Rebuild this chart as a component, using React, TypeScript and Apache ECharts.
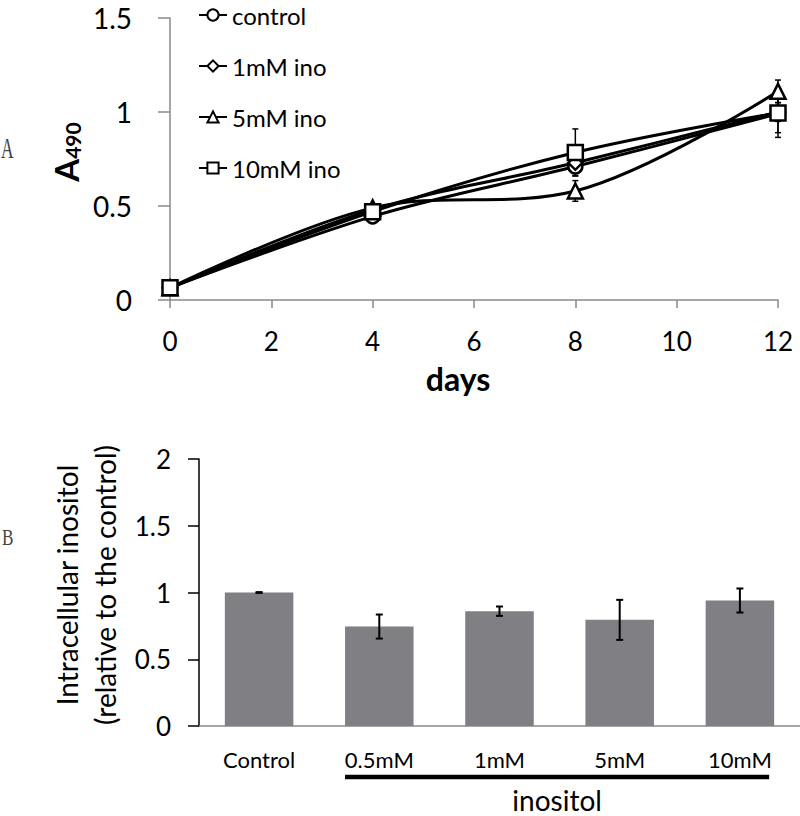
import React, { useEffect, useRef } from "react";
import * as echarts from "echarts";

// ---- Panel A data ----
const days = [0, 4, 8, 12];
const dayTicks = ["0", "2", "4", "6", "8", "10", "12"];
const seriesNames = ["control", "1mM ino", "5mM ino", "10mM ino"];
const controlVals = [0.065, 0.445, 0.71, 0.99];
const ino1Vals = [0.065, 0.48, 0.73, 1.0];
const ino5Vals = [0.065, 0.49, 0.58, 1.11];
const ino10Vals = [0.065, 0.47, 0.785, 0.995];
const controlErr = [0.005, 0.015, 0.05, 0.1];
const ino1Err = [0.005, 0.015, 0.04, 0.05];
const ino5Err = [0.005, 0.015, 0.055, 0.06];
const ino10Err = [0.005, 0.015, 0.125, 0.13];
const symbols = ["circle", "diamond", "triangle", "rect"];

// ---- Panel B data ----
const barCategories = ["Control", "0.5mM", "1mM", "5mM", "10mM"];
const barVals = [1.0, 0.745, 0.86, 0.795, 0.94];
const barErr = [0.003, 0.09, 0.035, 0.15, 0.09];

const FONT = "Lato, 'Open Sans', sans-serif";

export default function App() {
  const ref = useRef<HTMLDivElement>(null);
  useEffect(() => {
    document.body.style.margin = "0";
    const chart = echarts.init(ref.current!, null, { renderer: "svg" });

    const lineVals = [controlVals, ino1Vals, ino5Vals, ino10Vals];
    const errVals = [controlErr, ino1Err, ino5Err, ino10Err];

    const errRender = (capHalf: number, lw: number) => (params: any, api: any) => {
      const x = api.value(0);
      const lo = api.coord([x, api.value(1)]);
      const hi = api.coord([x, api.value(2)]);
      const st = { stroke: "#000", lineWidth: lw };
      return {
        type: "group",
        children: [
          { type: "line", shape: { x1: lo[0], y1: lo[1], x2: hi[0], y2: hi[1] }, style: st },
          { type: "line", shape: { x1: lo[0] - capHalf, y1: lo[1], x2: lo[0] + capHalf, y2: lo[1] }, style: st },
          { type: "line", shape: { x1: hi[0] - capHalf, y1: hi[1], x2: hi[0] + capHalf, y2: hi[1] }, style: st },
        ],
      };
    };

    const series: any[] = [];
    lineVals.forEach((vals, i) => {
      series.push({
        type: "custom",
        xAxisIndex: 0,
        yAxisIndex: 0,
        z: 1,
        silent: true,
        renderItem: errRender(3, 1.5),
        data: days.map((d, j) => [d, vals[j] - errVals[i][j], vals[j] + errVals[i][j]]),
      });
    });
    lineVals.forEach((vals, i) => {
      series.push({
        name: seriesNames[i],
        type: "line",
        xAxisIndex: 0,
        yAxisIndex: 0,
        z: 2 + i,
        smooth: 0.35,
        symbol: symbols[i],
        symbolSize: i >= 2 ? 15 : 14,
        lineStyle: { color: "#000", width: 3 },
        itemStyle: { color: "#fff", borderColor: "#000", borderWidth: 2.5 },
        data: days.map((d, j) => [d, vals[j]]),
      });
    });
    series.push({
      type: "bar",
      xAxisIndex: 1,
      yAxisIndex: 1,
      barWidth: "57%",
      itemStyle: { color: "#7f7f84" },
      data: barVals,
    });
    series.push({
      type: "custom",
      xAxisIndex: 1,
      yAxisIndex: 1,
      z: 5,
      silent: true,
      renderItem: errRender(3.5, 2),
      data: barVals.map((v, i) => [i, v - barErr[i], v + barErr[i]]),
    });

    const option: any = {
      animation: false,
      textStyle: { fontFamily: FONT },
      grid: [
        { left: 170, top: 18, width: 608, height: 282 },
        { left: 199, top: 459, width: 601, height: 267 },
      ],
      legend: {
        data: seriesNames,
        orient: "vertical",
        left: 198,
        top: 3,
        padding: 0,
        itemWidth: 28,
        itemHeight: 14,
        itemGap: 27,
        textStyle: { fontSize: 24, color: "#000", fontFamily: FONT },
      },
      xAxis: [
        {
          gridIndex: 0,
          type: "value",
          min: 0,
          max: 12,
          interval: 2,
          axisLine: { lineStyle: { color: "#8a8a8a", width: 1.5 } },
          axisTick: { show: true, length: 8, lineStyle: { color: "#8a8a8a", width: 1.5 } },
          axisLabel: {
            fontSize: 26,
            color: "#000",
            margin: 28,
            formatter: (v: number) => dayTicks[Math.round(v / 2)] ?? String(v),
          },
          splitLine: { show: false },
          name: "days",
          nameLocation: "middle",
          nameGap: 62,
          nameTextStyle: { fontSize: 32, fontWeight: "bold", color: "#000", padding: [0, 32, 0, 0] },
        },
        {
          gridIndex: 1,
          type: "category",
          data: barCategories,
          axisLine: { lineStyle: { color: "#8a8a8a", width: 1.5 } },
          axisTick: { show: false },
          axisLabel: { fontSize: 22, color: "#000", margin: 22 },
        },
      ],
      yAxis: [
        {
          gridIndex: 0,
          type: "value",
          min: 0,
          max: 1.5,
          interval: 0.5,
          axisLine: { show: true, lineStyle: { color: "#8a8a8a", width: 1.5 } },
          axisTick: { show: true, length: 12, lineStyle: { color: "#8a8a8a", width: 1.5 } },
          axisLabel: { fontSize: 28, color: "#000", margin: 38 },
          splitLine: { show: false },
        },
        {
          gridIndex: 1,
          type: "value",
          min: 0,
          max: 2,
          interval: 0.5,
          axisLine: { show: true, lineStyle: { color: "#000", width: 1.5 } },
          axisTick: { show: true, length: 11, lineStyle: { color: "#000", width: 1.5 } },
          axisLabel: { fontSize: 26, color: "#000", margin: 28 },
          splitLine: { show: false },
        },
      ],
      series,
    };
    chart.setOption(option);

    // annotations positioned from the axes
    const c0 = chart.convertToPixel({ xAxisIndex: 1 }, barCategories[0]) as number;
    const c1 = chart.convertToPixel({ xAxisIndex: 1 }, barCategories[1]) as number;
    const c4 = chart.convertToPixel({ xAxisIndex: 1 }, barCategories[4]) as number;
    const band = c1 - c0;
    const half = (band * 0.57) / 2;
    const base = chart.convertToPixel({ yAxisIndex: 1 }, 0) as number;
    const lineY = base + 51;
    const lx1 = c1 - half;
    const lx2 = c4 + half - 5;

    chart.setOption({
      graphic: [
        {
          type: "text",
          x: 1,
          y: 148,
          scaleX: 0.6,
          style: { text: "A", font: "29px 'Liberation Serif', serif", fill: "#444", verticalAlign: "middle" },
        },
        {
          type: "text",
          x: 2,
          y: 537,
          scaleX: 0.75,
          style: { text: "B", font: "23px 'Liberation Serif', serif", fill: "#444", verticalAlign: "middle" },
        },
        {
          type: "text",
          x: 66,
          y: 152,
          rotation: Math.PI / 2,
          style: {
            text: "{a|A}{s|490}",
            align: "center",
            verticalAlign: "middle",
            rich: {
              a: { fontSize: 33, fontWeight: "bold", fontFamily: FONT, fill: "#000", verticalAlign: "bottom" },
              s: {
                fontSize: 21,
                fontWeight: "bold",
                fontFamily: FONT,
                fill: "#000",
                verticalAlign: "bottom",
                padding: [10, 0, 0, 0],
              },
            },
          },
        },
        {
          type: "text",
          x: 67,
          y: 585,
          rotation: Math.PI / 2,
          style: {
            text: "Intracellular inositol",
            align: "center",
            verticalAlign: "middle",
            font: `28px ${FONT}`,
            fill: "#000",
          },
        },
        {
          type: "text",
          x: 105,
          y: 585,
          rotation: Math.PI / 2,
          style: {
            text: "(relative to the control)",
            align: "center",
            verticalAlign: "middle",
            font: `28px ${FONT}`,
            fill: "#000",
          },
        },
        {
          type: "line",
          shape: { x1: lx1, y1: lineY, x2: lx2, y2: lineY },
          style: { stroke: "#000", lineWidth: 4.5 },
        },
        {
          type: "text",
          x: (lx1 + lx2) / 2,
          y: lineY + 23,
          style: {
            text: "inositol",
            align: "center",
            verticalAlign: "middle",
            font: `28px ${FONT}`,
            fill: "#000",
          },
        },
      ],
    });

    return () => chart.dispose();
  }, []);
  return <div ref={ref} style={{ width: 800, height: 816 }} />;
}
